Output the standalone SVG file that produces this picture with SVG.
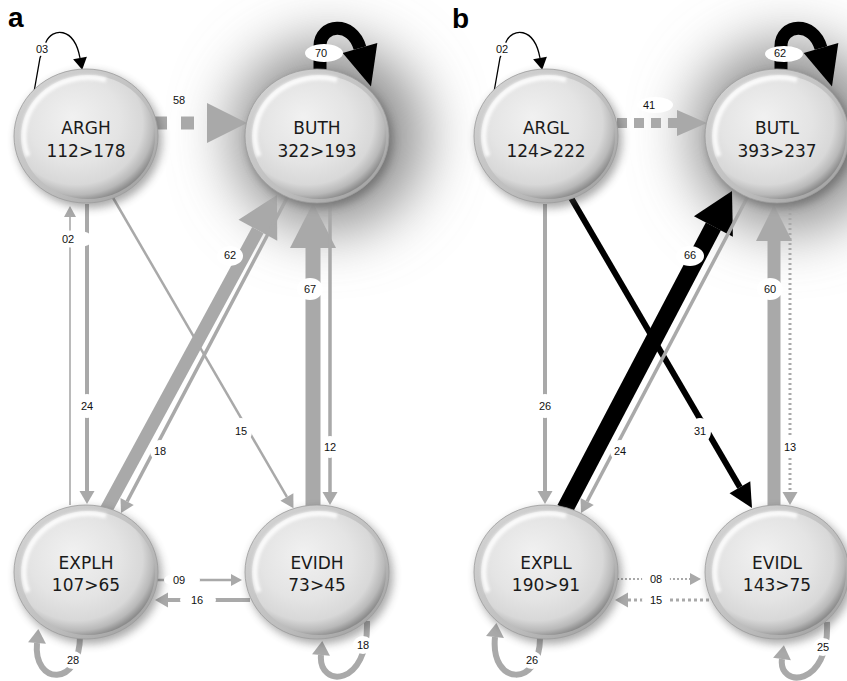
<svg xmlns="http://www.w3.org/2000/svg" xmlns:xlink="http://www.w3.org/1999/xlink" width="847" height="681" viewBox="0 0 847 681">
<style>
.g{fill:none;stroke:#a9a9a9}
.k{fill:none;stroke:#000}
.lb{font-family:"Liberation Sans",Arial,sans-serif;font-size:11px;fill:#111;text-anchor:middle}
.bg{fill:#fff}
.nt{font-family:"DejaVu Sans",Verdana,sans-serif;font-size:17px;fill:#1a1a1a;text-anchor:middle}
.pl{font-family:"Liberation Sans",Arial,sans-serif;font-size:28px;font-weight:bold;fill:#000}
</style>
<defs>
<filter id="halo" x="-100%" y="-100%" width="300%" height="300%"><feGaussianBlur stdDeviation="30"/></filter>
<filter id="sh" x="-20%" y="-20%" width="140%" height="140%"><feGaussianBlur stdDeviation="4"/></filter>
<filter id="soft" x="-20%" y="-20%" width="140%" height="140%"><feGaussianBlur stdDeviation="1.5"/></filter>
<linearGradient id="ring" x1="0" y1="0" x2="1" y2="1"><stop offset="0" stop-color="#d6d6d6"/><stop offset="0.6" stop-color="#bdbdbd"/><stop offset="1" stop-color="#9a9a9a"/></linearGradient>
<radialGradient id="sph" cx="0.42" cy="0.4" r="0.62" fx="0.38" fy="0.34"><stop offset="0" stop-color="#f1f1f1"/><stop offset="0.55" stop-color="#e4e4e4"/><stop offset="0.8" stop-color="#d8d8d8"/><stop offset="0.92" stop-color="#b9b9b9"/><stop offset="1" stop-color="#8c8c8c"/></radialGradient>
<g id="nd">
<ellipse cx="3" cy="4" rx="73" ry="68" fill="#444" opacity="0.45" filter="url(#sh)"/>
<ellipse cx="0" cy="0" rx="72" ry="67" fill="url(#ring)" stroke="#9c9c9c" stroke-width="0.8"/>
<ellipse cx="2" cy="1" rx="67" ry="62" fill="url(#sph)"/>
<path d="M-58,20 A64,58 0 0 1 20,-56" fill="none" stroke="#fff" stroke-width="5" opacity="0.85" filter="url(#soft)"/>
</g>
<marker id="mGs" markerUnits="userSpaceOnUse" orient="auto" refX="0" refY="0" markerWidth="20" markerHeight="20" overflow="visible"><path d="M0,-7.5 L13,0 L0,7.5 z" fill="#a9a9a9"/></marker>
<marker id="mGt" markerUnits="userSpaceOnUse" orient="auto" refX="0" refY="0" markerWidth="20" markerHeight="20" overflow="visible"><path d="M0,-6 L11,0 L0,6 z" fill="#a9a9a9"/></marker>
<marker id="mGL" markerUnits="userSpaceOnUse" orient="auto" refX="0" refY="0" markerWidth="60" markerHeight="60" overflow="visible"><path d="M0,-23 L45,0 L0,23 z" fill="#a9a9a9"/></marker>
<marker id="mG58" markerUnits="userSpaceOnUse" orient="auto" refX="0" refY="0" markerWidth="60" markerHeight="60" overflow="visible"><path d="M0,-20 L40,0 L0,20 z" fill="#a9a9a9"/></marker>
<marker id="mG62" markerUnits="userSpaceOnUse" orient="auto" refX="0" refY="0" markerWidth="60" markerHeight="60" overflow="visible"><path d="M0,-22 L40,0 L0,22 z" fill="#a9a9a9"/></marker>
<marker id="mG41" markerUnits="userSpaceOnUse" orient="auto" refX="0" refY="0" markerWidth="60" markerHeight="60" overflow="visible"><path d="M0,-13 L30,0 L0,13 z" fill="#a9a9a9"/></marker>
<marker id="mG60" markerUnits="userSpaceOnUse" orient="auto" refX="0" refY="0" markerWidth="60" markerHeight="60" overflow="visible"><path d="M0,-18 L36,0 L0,18 z" fill="#a9a9a9"/></marker>
<marker id="mGo" markerUnits="userSpaceOnUse" orient="auto" refX="0" refY="0" markerWidth="30" markerHeight="30" overflow="visible"><path d="M0,-9 L14,0 L0,9 z" fill="#a9a9a9"/></marker>
<marker id="mBL" markerUnits="userSpaceOnUse" orient="auto" refX="0" refY="0" markerWidth="60" markerHeight="60" overflow="visible"><path d="M0,-22 L40,0 L0,22 z" fill="#000"/></marker>
<marker id="mBo" markerUnits="userSpaceOnUse" orient="auto" refX="0" refY="0" markerWidth="60" markerHeight="60" overflow="visible"><path d="M0,-18 L40,0 L0,18 z" fill="#000"/></marker>
<marker id="mBm" markerUnits="userSpaceOnUse" orient="auto" refX="0" refY="0" markerWidth="40" markerHeight="40" overflow="visible"><path d="M0,-12 L24,0 L0,12 z" fill="#000"/></marker>
<marker id="mBt" markerUnits="userSpaceOnUse" orient="auto" refX="0" refY="0" markerWidth="20" markerHeight="20" overflow="visible"><path d="M0,-7 L12,0 L0,7 z" fill="#000"/></marker>
</defs>
<rect width="847" height="681" fill="#fff"/>
<g id="halos">
<ellipse cx="328" cy="136" rx="96" ry="94" fill="#8c8c8c" filter="url(#halo)"/>
<ellipse cx="788" cy="136" rx="96" ry="94" fill="#8c8c8c" filter="url(#halo)"/>
</g>
<text class="pl" x="8" y="27">a</text>
<text class="pl" x="452" y="28">b</text>
<g id="connectors">
<!-- panel a -->
<path class="g" d="M154,123 H207" stroke-width="13" stroke-dasharray="13 14" marker-end="url(#mG58)"/>
<path class="k" d="M320,74 V46 C320,24 352,20 360,48" stroke-width="13" marker-end="url(#mBo)"/>
<path class="k" d="M34,92 L40,58 L46,42 C52,28 74,26 80,58" stroke-width="1.3" marker-end="url(#mBt)"/>
<path class="g" d="M87,204 V491" stroke-width="4" marker-end="url(#mGs)"/>
<path class="g" d="M70,505 V217" stroke-width="1.6" marker-end="url(#mGt)"/>
<path class="g" d="M112,196 L286.9,496.9" stroke-width="2.5" marker-end="url(#mGs)"/>
<path class="g" d="M106,510 L257.9,230.2" stroke-width="13" marker-end="url(#mG62)"/>
<path class="g" d="M288,196 L127.1,501.5" stroke-width="3.5" marker-end="url(#mGs)"/>
<path class="g" d="M313,507 V248" stroke-width="15" marker-end="url(#mGL)"/>
<path class="g" d="M330,198 V492" stroke-width="3.5" marker-end="url(#mGs)"/>
<path class="g" d="M157,580 H231" stroke-width="2.5" marker-end="url(#mGt)"/>
<path class="g" d="M250,600 H168" stroke-width="4" marker-end="url(#mGs)"/>
<path class="g" d="M80,636 C80,688 33,685 37,643" stroke-width="6" marker-end="url(#mGo)"/>
<path class="g" d="M367,621 C369,688 318,688 321,655" stroke-width="6" marker-end="url(#mGo)"/>
<!-- panel b -->
<path class="g" d="M617,123 H677" stroke-width="10" stroke-dasharray="10 7" marker-end="url(#mG41)"/>
<path class="k" d="M781,74 V46 C781,24 813,20 821,48" stroke-width="13" marker-end="url(#mBo)"/>
<path class="k" d="M494,92 L500,58 L506,42 C512,28 534,26 540,58" stroke-width="1.3" marker-end="url(#mBt)"/>
<path class="g" d="M545,204 V491" stroke-width="4" marker-end="url(#mGs)"/>
<path class="k" d="M570,196 L739.9,487.3" stroke-width="6" marker-end="url(#mBm)"/>
<path class="k" d="M565,509 L713.4,226.4" stroke-width="17" marker-end="url(#mBL)"/>
<path class="g" d="M748,196 L587.1,501.5" stroke-width="3.5" marker-end="url(#mGs)"/>
<path class="g" d="M774,507 V241" stroke-width="13" marker-end="url(#mG60)"/>
<path class="g" d="M790,198 V492" stroke-width="3" stroke-dasharray="2 3" marker-end="url(#mGs)"/>
<path class="g" d="M617,579 H690" stroke-width="2" stroke-dasharray="2 2" marker-end="url(#mGt)"/>
<path class="g" d="M709,600 H628" stroke-width="3" stroke-dasharray="3 3" marker-end="url(#mGs)"/>
<path class="g" d="M540,638 C540,688 490,686 495,637" stroke-width="6" marker-end="url(#mGo)"/>
<path class="g" d="M827,622 C830,688 778,688 782,659" stroke-width="6" marker-end="url(#mGo)"/>
</g>
<g id="node-ARGH" transform="translate(86,136)"><use xlink:href="#nd"/><text class="nt" y="-2">ARGH</text><text class="nt" y="21">112&gt;178</text></g>
<g id="node-BUTH" transform="translate(317,136)"><use xlink:href="#nd"/><text class="nt" y="-2">BUTH</text><text class="nt" y="21">322&gt;193</text></g>
<g id="node-EXPLH" transform="translate(86,572)"><use xlink:href="#nd"/><text class="nt" y="-3">EXPLH</text><text class="nt" y="19">107&gt;65</text></g>
<g id="node-EVIDH" transform="translate(317,572)"><use xlink:href="#nd"/><text class="nt" y="-3">EVIDH</text><text class="nt" y="19">73&gt;45</text></g>
<g id="node-ARGL" transform="translate(546,136)"><use xlink:href="#nd"/><text class="nt" y="-2">ARGL</text><text class="nt" y="21">124&gt;222</text></g>
<g id="node-BUTL" transform="translate(777,136)"><use xlink:href="#nd"/><text class="nt" y="-2">BUTL</text><text class="nt" y="21">393&gt;237</text></g>
<g id="node-EXPLL" transform="translate(546,572)"><use xlink:href="#nd"/><text class="nt" y="-3">EXPLL</text><text class="nt" y="19">190&gt;91</text></g>
<g id="node-EVIDL" transform="translate(777,572)"><use xlink:href="#nd"/><text class="nt" y="-3">EVIDL</text><text class="nt" y="19">143&gt;75</text></g>
<g id="labels">
<!-- panel a -->
<text class="lb" x="179" y="104">58</text>
<ellipse class="bg" cx="324" cy="53" rx="19" ry="9"/><text class="lb" x="321" y="57">70</text>
<ellipse class="bg" cx="42" cy="49" rx="9" ry="7"/><text class="lb" x="42" y="53">03</text>
<ellipse class="bg" cx="75" cy="239" rx="18" ry="9"/><text class="lb" x="68" y="243">02</text>
<ellipse class="bg" cx="87" cy="406" rx="10" ry="12"/><text class="lb" x="87" y="410">24</text>
<ellipse class="bg" cx="241" cy="431" rx="11" ry="13"/><text class="lb" x="241" y="435">15</text>
<ellipse class="bg" cx="230" cy="256" rx="13" ry="10"/><text class="lb" x="230" y="259">62</text>
<ellipse class="bg" cx="160" cy="451" rx="10" ry="11"/><text class="lb" x="160" y="455">18</text>
<ellipse class="bg" cx="310" cy="289" rx="13" ry="11"/><text class="lb" x="310" y="293">67</text>
<ellipse class="bg" cx="330" cy="447" rx="9" ry="11"/><text class="lb" x="330" y="451">12</text>
<ellipse class="bg" cx="182" cy="580" rx="18" ry="7"/><text class="lb" x="179" y="584">09</text>
<ellipse class="bg" cx="198" cy="600" rx="18" ry="7"/><text class="lb" x="197" y="604">16</text>
<ellipse class="bg" cx="73" cy="660" rx="10" ry="9"/><text class="lb" x="73" y="664">28</text>
<ellipse class="bg" cx="363" cy="645" rx="10" ry="9"/><text class="lb" x="363" y="649">18</text>
<!-- panel b -->
<ellipse class="bg" cx="655" cy="105" rx="18" ry="8"/><text class="lb" x="649" y="109">41</text>
<ellipse class="bg" cx="784" cy="54" rx="19" ry="8"/><text class="lb" x="780" y="57">62</text>
<ellipse class="bg" cx="502" cy="49" rx="9" ry="7"/><text class="lb" x="502" y="53">02</text>
<ellipse class="bg" cx="545" cy="406" rx="10" ry="12"/><text class="lb" x="545" y="410">26</text>
<ellipse class="bg" cx="700" cy="431" rx="11" ry="13"/><text class="lb" x="700" y="435">31</text>
<ellipse class="bg" cx="690" cy="256" rx="14" ry="10"/><text class="lb" x="690" y="259">66</text>
<ellipse class="bg" cx="620" cy="451" rx="10" ry="11"/><text class="lb" x="620" y="455">24</text>
<ellipse class="bg" cx="770" cy="289" rx="13" ry="11"/><text class="lb" x="770" y="293">60</text>
<ellipse class="bg" cx="790" cy="447" rx="9" ry="11"/><text class="lb" x="790" y="451">13</text>
<ellipse class="bg" cx="656" cy="579" rx="14" ry="7"/><text class="lb" x="656" y="583">08</text>
<ellipse class="bg" cx="656" cy="600" rx="14" ry="7"/><text class="lb" x="656" y="604">15</text>
<ellipse class="bg" cx="532" cy="660" rx="10" ry="9"/><text class="lb" x="532" y="664">26</text>
<ellipse class="bg" cx="823" cy="647" rx="10" ry="9"/><text class="lb" x="823" y="651">25</text>
</g>
</svg>
